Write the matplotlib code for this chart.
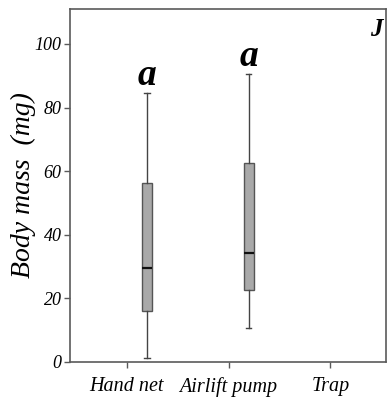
import matplotlib
matplotlib.use("Agg")
import matplotlib.pyplot as plt

# Body mass summary per sampling method (mg)
methods = ["Hand net", "Airlift pump", "Trap"]
whisker_low = [1.1, 10.7]
q1 = [16.1, 22.6]
median = [29.4, 34.3]
q3 = [56.3, 62.4]
whisker_high = [84.5, 90.6]
letters = ["a", "a"]
yticks = [0, 20, 40, 60, 80, 100]

plt.rcParams["font.family"] = ["Liberation Serif", "DejaVu Serif"]

fig = plt.figure(figsize=(3.87, 3.97), dpi=100)
ax = fig.add_axes([70 / 387, 1 - 361.7 / 397, (385.5 - 70) / 387, (361.7 - 9) / 397])

spine_col = "#5a5a5a"
stats = []
for i in range(len(median)):
    stats.append(dict(whislo=whisker_low[i], q1=q1[i], med=median[i],
                      q3=q3[i], whishi=whisker_high[i], fliers=[]))

positions = [i + 1.2 for i in range(len(stats))]
ax.bxp(stats, positions=positions, widths=0.1, patch_artist=True,
       showfliers=False,
       boxprops=dict(facecolor="#a9a9a9", edgecolor="#555555", linewidth=1.0),
       medianprops=dict(color="#111111", linewidth=1.6),
       whiskerprops=dict(color="#444444", linewidth=1.0),
       capprops=dict(color="#444444", linewidth=1.0),
       capwidths=0.05)

for p, top, lab in zip(positions, whisker_high, letters):
    ax.text(p, top + 2.5, lab, ha="center", va="baseline", fontsize=27,
            fontweight="bold", fontstyle="italic")

ax.text(0.99, 0.975, "J", transform=ax.transAxes, ha="right", va="top",
        fontsize=18, fontweight="bold", fontstyle="italic")

ax.set_xlim(0.445, 3.54)
ax.set_ylim(0, 111)
ax.set_xticks(range(1, len(methods) + 1))
ax.set_xticklabels(methods, fontsize=14.5, fontstyle="italic")
ax.set_yticks(yticks)
ax.set_yticklabels([str(v) for v in yticks], fontsize=13, fontstyle="italic")
ax.set_ylabel("Body mass  (mg)", fontsize=20, fontstyle="italic", labelpad=-1)

for s in ax.spines.values():
    s.set_color(spine_col)
    s.set_linewidth(1.2)
ax.tick_params(axis="both", direction="out", length=4, width=1.0,
               color=spine_col, pad=2)
ax.tick_params(axis="x", pad=7)

fig.savefig("out.png", dpi=100)
